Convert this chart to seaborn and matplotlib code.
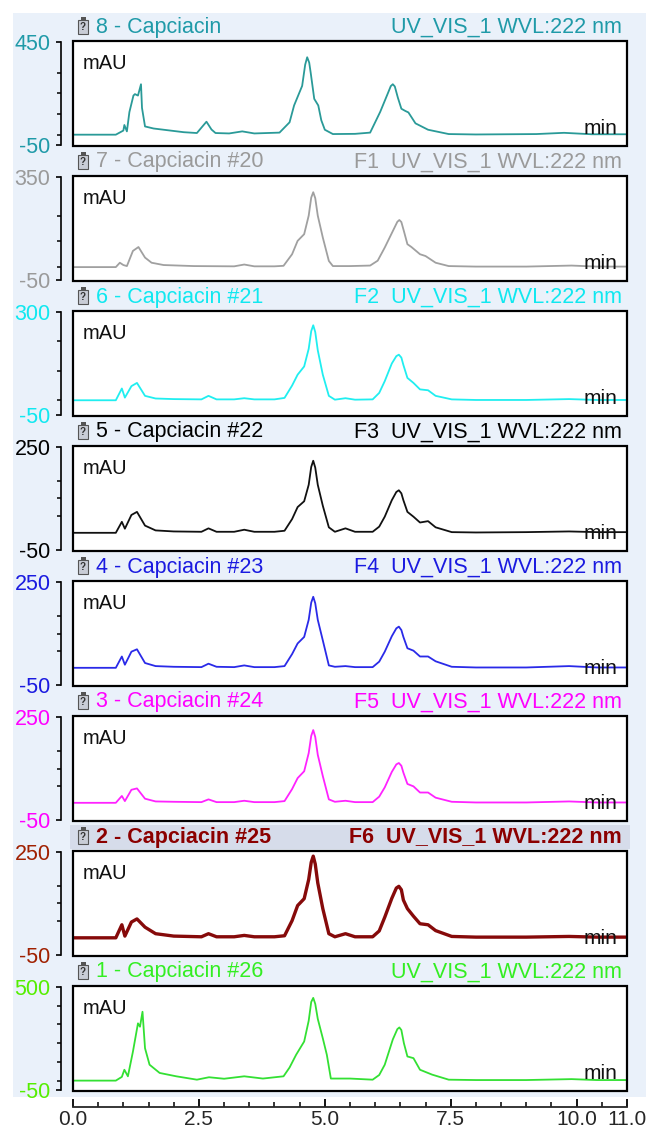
import numpy as np
import pandas as pd
import matplotlib.pyplot as plt
import seaborn as sns
from matplotlib.patches import Rectangle
from matplotlib.ticker import FixedLocator, MultipleLocator

# ----------------------------------
# Style
# ----------------------------------

sns.set_style("white")
plt.rcParams["font.family"] = ["Liberation Sans", "DejaVu Sans"]

# ----------------------------------
# Data
# ----------------------------------

# 8 - Capciacin
t_8 = [0.0, 0.85, 1.0, 1.02, 1.07, 1.12, 1.2, 1.23, 1.29, 1.35, 1.37, 1.43, 1.6, 1.8, 2.2,
       2.46, 2.57, 2.65, 2.75, 2.83, 3.1, 3.36, 3.6, 4.1, 4.3, 4.39, 4.55, 4.61, 4.65, 4.69,
       4.72, 4.79, 4.87, 4.93, 5.0, 5.16, 5.6, 5.9, 6.1, 6.25, 6.31, 6.35, 6.39, 6.45, 6.52,
       6.6, 6.66, 6.8, 7.05, 7.46, 8.0, 9.2, 9.75, 10.3, 11.0]
mau_8 = [0, 0, 20, 47, 16, 110, 190, 197, 190, 245, 130, 40, 30, 24, 12,
         8, 40, 63, 25, 8, 6, 16, 6, 10, 60, 142, 237, 340, 376, 350,
         300, 174, 142, 70, 24, 3, 4, 10, 111, 200, 236, 245, 234, 180, 126,
         115, 108, 55, 24, 3, 1, 3, 9, 2, 2]

# 7 - Capciacin #20
t_7 = [0.0, 0.85, 0.93, 1.0, 1.07, 1.19, 1.3, 1.43, 1.56, 1.8, 2.4, 3.2, 3.4, 3.6, 4.0,
       4.18, 4.35, 4.46, 4.59, 4.68, 4.73, 4.77, 4.81, 4.86, 4.96, 5.08, 5.16, 5.5, 5.9,
       6.05, 6.19, 6.35, 6.44, 6.48, 6.52, 6.57, 6.64, 6.72, 6.89, 7.0, 7.2, 7.46, 8.0,
       9.0, 9.9, 10.4, 11.0]
mau_7 = [0, 0, 17, 8, 4, 63, 78, 37, 17, 8, 4, 3, 10, 3, 3,
         5, 50, 102, 128, 200, 270, 291, 268, 200, 115, 24, 4, 4, 6,
         25, 76, 140, 176, 183, 175, 140, 89, 78, 50, 43, 17, 4, 2,
         2, 6, 2, 2]

# time points shared by the F2 ... F6 runs
t_mid = [0.0, 0.85, 0.97, 1.03, 1.16, 1.27, 1.43, 1.64, 2.0, 2.55, 2.69, 2.85, 3.2, 3.4, 3.6,
         4.0, 4.2, 4.35, 4.46, 4.59, 4.68, 4.73, 4.77, 4.81, 4.86, 4.96, 5.08, 5.2, 5.41, 5.6,
         5.95, 6.08, 6.19, 6.33, 6.42, 6.47, 6.52, 6.56, 6.64, 6.76, 6.89, 7.05, 7.2, 7.52,
         8.0, 9.0, 9.85, 10.4, 11.0]

mau_6 = [0, 0, 40, 9, 48, 59, 15, 6, 4, 3, 15, 3, 3, 7, 3,
         3, 8, 50, 87, 115, 175, 235, 255, 232, 170, 87, 15, 2, 7, 2,
         3, 25, 65, 125, 150, 155, 145, 120, 76, 59, 37, 34, 15, 3,
         1, 1, 4, 1, 1]

mau_5 = [0, 0, 32, 12, 52, 61, 21, 7, 4, 3, 13, 3, 3, 9, 3,
         3, 6, 40, 75, 92, 140, 192, 210, 190, 140, 79, 16, 3, 13, 3,
         3, 18, 47, 95, 119, 124, 115, 95, 61, 47, 30, 34, 16, 2,
         1, 2, 4, 2, 2]

mau_4 = [0, 0, 33, 9, 47, 54, 14, 5, 3, 2, 12, 3, 2, 7, 2,
         2, 5, 40, 71, 90, 140, 190, 207, 188, 140, 80, 7, 3, 5, 2,
         2, 18, 47, 92, 115, 120, 110, 90, 57, 50, 33, 33, 19, 3,
         1, 1, 5, 1, 1]

mau_3 = [0, 0, 20, 5, 38, 42, 12, 4, 3, 2, 10, 2, 2, 6, 2,
         2, 5, 40, 72, 92, 145, 195, 212, 192, 140, 78, 10, 3, 6, 2,
         2, 18, 45, 90, 112, 116, 108, 88, 55, 48, 30, 30, 15, 3,
         1, 1, 4, 1, 1]

mau_2 = [0, 0, 38, 5, 46, 55, 31, 12, 5, 3, 12, 3, 3, 7, 3,
         3, 6, 50, 94, 114, 170, 220, 238, 215, 160, 85, 12, 3, 12, 3,
         3, 20, 60, 115, 145, 150, 140, 110, 85, 63, 41, 38, 21, 4,
         2, 2, 4, 2, 2]

# 1 - Capciacin #26
t_1 = [0.0, 0.85, 0.97, 1.02, 1.09, 1.19, 1.29, 1.33, 1.38, 1.43, 1.52, 1.72, 2.05, 2.46, 2.7,
       3.0, 3.4, 3.77, 4.18, 4.3, 4.43, 4.59, 4.68, 4.73, 4.77, 4.81, 4.86, 4.96, 5.04, 5.12,
       5.5, 5.95, 6.08, 6.19, 6.35, 6.44, 6.48, 6.52, 6.57, 6.64, 6.76, 6.89, 7.13, 7.46,
       8.0, 9.0, 9.9, 10.4, 11.0]
mau_1 = [0, 0, 20, 58, 23, 155, 306, 288, 368, 173, 85, 41, 23, 5, 18,
         10, 23, 11, 23, 70, 138, 209, 320, 420, 442, 410, 330, 226, 138, 11,
         11, 5, 30, 85, 220, 275, 284, 270, 200, 129, 120, 58, 32, 5,
         3, 3, 8, 3, 3]

left_titles = ["8 - Capciacin", "7 - Capciacin #20", "6 - Capciacin #21", "5 - Capciacin #22",
               "4 - Capciacin #23", "3 - Capciacin #24", "2 - Capciacin #25", "1 - Capciacin #26"]
right_titles = ["UV_VIS_1 WVL:222 nm", "F1  UV_VIS_1 WVL:222 nm", "F2  UV_VIS_1 WVL:222 nm",
                "F3  UV_VIS_1 WVL:222 nm", "F4  UV_VIS_1 WVL:222 nm", "F5  UV_VIS_1 WVL:222 nm",
                "F6  UV_VIS_1 WVL:222 nm", "UV_VIS_1 WVL:222 nm"]

y_tops = [450, 350, 300, 250, 250, 250, 250, 500]
y_minor = [[0, 100, 200, 300], [0, 100, 200], [0, 100, 200], [50, 100, 150],
           [50, 100, 150], [50, 100, 150], [50, 100, 150], [0, 100, 200, 300, 400]]

x_ticks = [0.0, 2.5, 5.0, 7.5, 10.0, 11.0]
x_labels = ["0.0", "2.5", "5.0", "7.5", "10.0", "11.0"]

traces = [(t_8, mau_8), (t_7, mau_7), (t_mid, mau_6), (t_mid, mau_5),
          (t_mid, mau_4), (t_mid, mau_3), (t_mid, mau_2), (t_1, mau_1)]

line_colors = ["#2a9a98", "#a0a0a0", "#20eef0", "#111111",
               "#2a2ae8", "#ff22ff", "#860a0a", "#33e033"]
text_colors = ["#1f9aa8", "#9a9a9a", "#10e8f0", "#000000",
               "#1a1ae0", "#ff00ff", "#8b0000", "#33ee22"]
tick_colors = ["#1f9aa8", "#9a9a9a", "#10e8f0", "#000000",
               "#1a1ae0", "#ff00ff", "#a02000", "#55ee00"]
line_widths = [1.3, 1.3, 1.3, 1.3, 1.3, 1.3, 2.4, 1.3]

# ----------------------------------
# Figure layout (pixel based)
# ----------------------------------

W, H = 646, 1131
fig = plt.figure(figsize=(W / 100, H / 100), dpi=100)
fig.patch.set_facecolor("white")

left_px, right_px = 73, 627
frame_h = 105
step = 135
first_top = 41

# light blue panel background
fig.patches.append(Rectangle(
    (13 / W, 1 - 1097 / H), (W - 13) / W, (1097 - 13) / H,
    transform=fig.transFigure, facecolor="#eaf1fa", edgecolor="none", zorder=-10
))

for i in range(8):
    top_px = first_top + i * step
    t, v = traces[i]
    y_top = y_tops[i]

    # selected row highlight
    if i == 6:
        fig.patches.append(Rectangle(
            (70 / W, 1 - (top_px - 2) / H), (630 - 70) / W, 24 / H,
            transform=fig.transFigure, facecolor="#d6dcea", edgecolor="none", zorder=-9
        ))

    ax = fig.add_axes([left_px / W, 1 - (top_px + frame_h) / H,
                       (right_px - left_px) / W, frame_h / H])
    ax.set_facecolor("white")

    df = pd.DataFrame({"time": t, "mAU": v})
    sns.lineplot(data=df, x="time", y="mAU", ax=ax, color=line_colors[i],
                 linewidth=line_widths[i], estimator=None, sort=False)

    rng = y_top + 50
    ax.set_xlim(0, 11)
    ax.set_ylim(-50 - 0.01 * rng, y_top + 0.01 * rng)
    ax.set_xlabel("")
    ax.set_ylabel("")
    ax.set_xticks([])

    for s in ["top", "right", "bottom"]:
        ax.spines[s].set_visible(False)
    ax.spines["left"].set_position(("outward", 8.6))
    ax.spines["left"].set_bounds(-50, y_top)
    ax.spines["left"].set_color("black")
    ax.spines["left"].set_linewidth(1.2)

    ax.set_yticks([-50, y_top])
    ax.set_yticklabels(["-50", str(y_top)])
    ax.yaxis.set_minor_locator(FixedLocator(y_minor[i]))
    ax.tick_params(axis="y", which="major", left=True, direction="out", length=3.6,
                   width=1.2, color="black", labelcolor=tick_colors[i],
                   labelsize=15.5, pad=4)
    ax.tick_params(axis="y", which="minor", left=True, direction="out", length=3.2,
                   width=1.1, color="black")

    # frame
    ax.add_patch(Rectangle((0, 0), 1, 1, transform=ax.transAxes, fill=False,
                           edgecolor="black", linewidth=1.6, clip_on=False, zorder=5))

    # inside labels
    ax.text(0.018, 0.79, "mAU", transform=ax.transAxes, fontsize=14.5,
            color="#111111", va="center", ha="left")
    ax.text(0.983, 0.17, "min", transform=ax.transAxes, fontsize=15,
            color="#111111", va="center", ha="right")

    # title row
    ty = 1 + 14 / frame_h
    weight = "bold" if i == 6 else "normal"
    ax.text(23 / 554, ty, left_titles[i], transform=ax.transAxes, fontsize=15.5,
            color=text_colors[i], va="center", ha="left", fontweight=weight)
    ax.text(549 / 554, ty, right_titles[i], transform=ax.transAxes, fontsize=15.5,
            color=text_colors[i], va="center", ha="right", fontweight=weight)

    # little channel icon
    ax.add_patch(Rectangle((5 / 554, 1 + 7 / frame_h), 10 / 554, 14 / frame_h,
                           transform=ax.transAxes, facecolor="#c9cdd6", edgecolor="#555555",
                           linewidth=0.8, clip_on=False, zorder=6))
    ax.add_patch(Rectangle((7.5 / 554, 1 + 21 / frame_h), 5 / 554, 3 / frame_h,
                           transform=ax.transAxes, facecolor="#555555", edgecolor="none",
                           clip_on=False, zorder=6))
    ax.text(10 / 554, 1 + 14 / frame_h, "?", transform=ax.transAxes, fontsize=7,
            color="#333333", ha="center", va="center", zorder=7, fontweight="bold")

# ----------------------------------
# Shared time axis
# ----------------------------------

ax_x = fig.add_axes([left_px / W, 1 - 1107 / H, (right_px - left_px) / W, 6 / H])
ax_x.set_facecolor("none")
ax_x.set_xlim(0, 11)
ax_x.set_yticks([])
for s in ["top", "right", "left"]:
    ax_x.spines[s].set_visible(False)
ax_x.spines["bottom"].set_linewidth(1.3)
ax_x.set_xticks(x_ticks)
ax_x.set_xticklabels(x_labels)
ax_x.xaxis.set_minor_locator(MultipleLocator(0.5))
ax_x.tick_params(axis="x", which="major", bottom=True, direction="in", length=6,
                 width=1.3, color="black", labelsize=15, pad=2)
ax_x.tick_params(axis="x", which="minor", bottom=True, direction="in", length=3.5,
                 width=1.1, color="black")

plt.savefig("out.png", dpi=100)
plt.close()
